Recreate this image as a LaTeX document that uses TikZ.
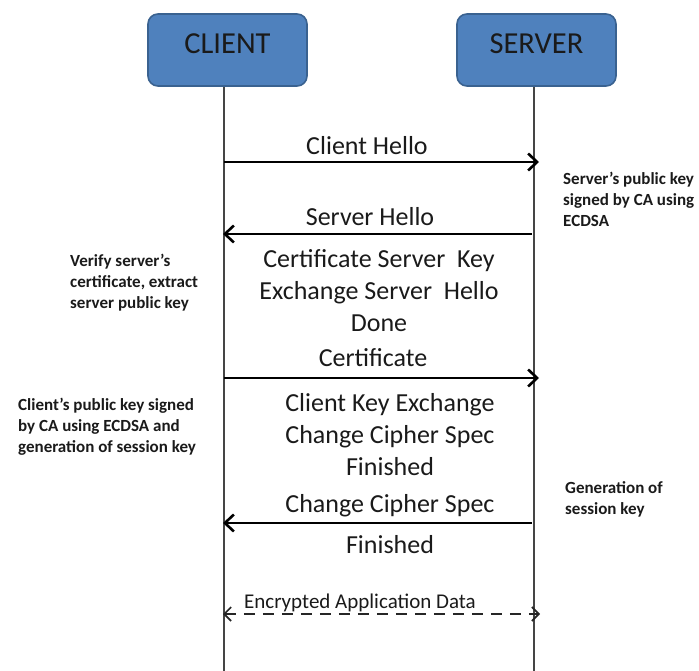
\documentclass[tikz,border=0pt]{standalone}
\usepackage{fontspec}
\setmainfont{Carlito}
\usetikzlibrary{arrows.meta}

\definecolor{boxfill}{HTML}{4F81BD}
\definecolor{boxedge}{HTML}{3A6290}
\definecolor{lifegray}{HTML}{454545}
\definecolor{inktext}{HTML}{1A1A1A}

\tikzset{
  party/.style={draw=boxedge, line width=1.6pt, fill=boxfill, rounded corners=10pt,
    minimum width=159pt, minimum height=72pt, inner sep=0pt,
    font=\fontsize{30.5}{36}\selectfont, text=inktext},
  lifeline/.style={draw=lifegray, line width=1.4pt},
  msg/.style={draw=black, line width=2.6pt, -{Straight Barb[length=9pt,width=17pt]}},
  datamsg/.style={draw=black!85, line width=1.6pt, dash pattern=on 11pt off 8pt,
    {Straight Barb[length=7pt,width=14pt]}-{Straight Barb[length=7pt,width=14pt]}},
  msglabel/.style={inner sep=0pt, text=inktext, font=\fontsize{26}{32}\selectfont,
    text height=17pt, text depth=0pt},
  msgblock/.style={inner sep=0pt, text=inktext, align=center, font=\fontsize{26}{32}\selectfont},
  note/.style={inner sep=0pt, anchor=west, align=left, text=inktext,
    font=\fontsize{17}{21}\selectfont\bfseries},
  datalabel/.style={inner sep=0pt, text=inktext, font=\fontsize{21}{25}\selectfont,
    text height=13.6pt, text depth=0pt}
}

\begin{document}
\begin{tikzpicture}[x=1pt, y=-1pt]
  \useasboundingbox (0,0) rectangle (699,671);

  % the two parties
  \node[party] (client) at (227.5,50) {\raisebox{12pt}{CLIENT}};
  \node[party] (server) at (536.5,50) {\raisebox{12pt}{SERVER}};

  % lifelines
  \coordinate (cBot) at (224,671);
  \coordinate (sBot) at (534,671);
  \draw[lifeline] (client.south -| cBot) -- (cBot);
  \draw[lifeline] (server.south -| sBot) -- (sBot);

  % end points of the messages
  \coordinate (m1c) at (224,162);  \coordinate (m1s) at (539,162);
  \coordinate (m2s) at (532,234);  \coordinate (m2c) at (223,234);
  \coordinate (m3c) at (224,378);  \coordinate (m3s) at (539,378);
  \coordinate (m4s) at (532,523);  \coordinate (m4c) at (223,523);
  \coordinate (m5c) at (223,614);  \coordinate (m5s) at (540,614);

  % messages
  \draw[msg] (m1c) -- (m1s);
  \draw[msg] (m2s) -- (m2c);
  \draw[msg] (m3c) -- (m3s);
  \draw[msg] (m4s) -- (m4c);
  \draw[datamsg] (m5c) -- (m5s);

  % message labels
  \node[msglabel] (tHello) at (367,146) {Client Hello};
  \node[msglabel] (tSHello) at (370,217) {Server Hello};
  \node[msgblock] (tCertBlock) at (379,291) {Certificate Server\ \ Key\\Exchange Server\ \ Hello\\Done};
  \node[msglabel] (tCert) at (373,358) {Certificate};
  \node[msgblock] (tCKE) at (390,435) {Client Key Exchange\\Change Cipher Spec\\Finished};
  \node[msglabel] (tCCS) at (390,504) {Change Cipher Spec};
  \node[msglabel] (tFin) at (390,545) {Finished};
  \node[datalabel] (tData) at (360,602) {Encrypted Application Data};

  % side notes
  \node[note] (nServerKey) at (563,199) {Server’s public key\\signed by CA using\\ECDSA};
  \node[note] (nVerify) at (70,283) {Verify server’s\\certificate, extract\\server public key};
  \node[note] (nClientKey) at (18,427) {Client’s public key signed\\by CA using ECDSA and\\generation of session key};
  \node[note] (nSession) at (565,499) {Generation of\\session key};
\end{tikzpicture}
\end{document}
